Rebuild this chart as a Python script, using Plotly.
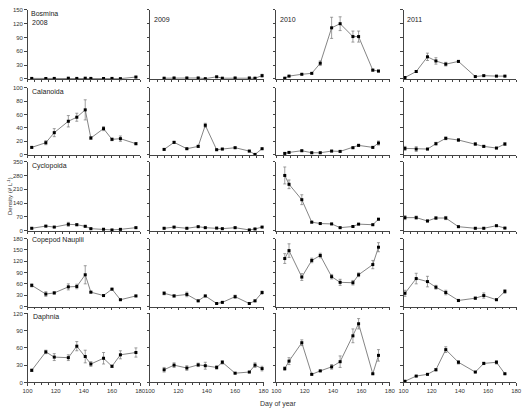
import plotly.graph_objects as go

W, H = 529, 412

years = ["2008", "2009", "2010", "2011"]
taxa = ["Bosmina", "Calanoida", "Cyclopoida", "Copepod Nauplii", "Daphnia"]

days_2008 = [103, 113, 119, 129, 135, 141, 145, 154, 160, 166, 177]
days_2009 = [110, 117, 126, 134, 139, 147, 151, 160, 170, 174, 179]
days_2010 = [106, 109, 118, 125, 131, 139, 145, 154, 158, 168, 172]
days_2011 = [101, 109, 117, 123, 130, 139, 151, 157, 166, 172]

bosmina_2008 = [1, 0.8, 1, 1.5, 1, 1.5, 1, 0.8, 1, 0.5, 4]
bosmina_2008_se = [0.5, 0.5, 0.5, 0.5, 0.5, 0.5, 0.5, 0.5, 0.5, 0.5, 1.5]
bosmina_2009 = [1.5, 2, 2, 2, 0.5, 4.5, 1.5, 2, 2, 1.5, 7]
bosmina_2009_se = [0.5, 0.5, 0.5, 0.5, 0.5, 1, 0.5, 0.5, 0.5, 0.5, 3]
bosmina_2010 = [1.5, 6, 10, 12, 34, 111, 120, 92, 92, 19, 17]
bosmina_2010_se = [0.5, 1, 1, 1, 5, 23, 15, 12, 12, 2, 2]
bosmina_2011 = [3, 16, 48, 39, 32, 38, 5, 7, 6, 6]
bosmina_2011_se = [1, 2, 8, 7, 4, 2, 1, 1, 1, 1]

calanoida_2008 = [11, 18, 33, 50, 56, 67, 25, 39, 23, 24, 16.5]
calanoida_2008_se = [1, 3, 6, 8.5, 6, 15, 2, 3, 2, 4, 1.5]
calanoida_2009 = [8, 18.5, 9, 12.5, 44, 7.5, 8.5, 10.5, 5.5, 0.5, 9]
calanoida_2009_se = [1, 1.5, 1, 1.5, 3, 1, 1, 1, 1, 0.5, 1]
calanoida_2010 = [2, 3.5, 6, 3, 3, 5.5, 5, 10.5, 14, 11, 17.5]
calanoida_2010_se = [1, 1, 1, 1, 1, 1, 1, 1, 1.5, 1, 3]
calanoida_2011 = [9.5, 8.5, 8.5, 16.5, 24.5, 22, 16, 12.5, 10, 16]
calanoida_2011_se = [3, 3.5, 1, 2, 2, 2, 2, 1.5, 1, 2]

cyclopoida_2008 = [12, 23, 18, 32, 30, 22, 10, 7, 3.5, 6.5, 15]
cyclopoida_2008_se = [3, 3, 2, 10, 5, 3, 2, 2, 1, 2, 3]
cyclopoida_2009 = [12, 18, 12, 20, 15, 13, 10, 15, 3.5, 8.5, 18]
cyclopoida_2009_se = [3, 3, 2, 3, 2, 2, 2, 3, 1, 2, 3]
cyclopoida_2010 = [280, 235, 157, 43, 36, 34, 15, 21, 33, 30, 58]
cyclopoida_2010_se = [43, 22, 25, 4, 3, 3, 2, 3, 3, 3, 4]
cyclopoida_2011 = [66, 66, 49, 64, 64, 20, 12, 12, 25, 13]
cyclopoida_2011_se = [10, 8, 5, 6, 8, 3, 2, 2, 3, 2]

nauplii_2008 = [56, 33, 36, 52, 53, 84, 38, 29, 46, 18, 28]
nauplii_2008_se = [4, 6, 3, 8, 6, 24, 2, 2, 2, 1, 2]
nauplii_2009 = [35, 28, 32, 15, 28, 8, 11, 26, 8, 15, 37]
nauplii_2009_se = [4, 3, 6, 2, 2, 1, 2, 4, 1, 2, 4]
nauplii_2010 = [127, 148, 78, 122, 135, 79, 64, 63, 84, 111, 157]
nauplii_2010_se = [13, 18, 9, 6, 6, 6, 8, 6, 5, 11, 12]
nauplii_2011 = [35, 74, 66, 51, 37, 16, 22, 29, 18, 40]
nauplii_2011_se = [8, 14, 14, 5, 6, 3, 3, 7, 2, 5]

daphnia_2008 = [21, 53, 44, 43, 63, 45, 32, 42, 28, 48, 52]
daphnia_2008_se = [2, 3, 6, 5, 8, 11, 4, 10, 2, 7, 8]
daphnia_2009 = [22, 30, 25, 30.5, 29, 26, 35, 16, 18, 30, 24]
daphnia_2009_se = [4, 4, 4, 3, 6, 3, 3, 1, 1, 4, 4]
daphnia_2010 = [24, 37, 69, 14, 20, 27, 36, 81, 102, 15, 47]
daphnia_2010_se = [3, 6, 5, 1, 1, 4, 10, 12, 9, 1, 10]
daphnia_2011 = [2, 11, 14, 22, 57, 35, 18, 33, 35, 15]
daphnia_2011_se = [1, 1, 1, 2, 5, 3, 1, 2, 3, 1]

y_max = [150, 100, 350, 180, 120]
y_step = [30, 20, 70, 30, 30]
x_ticks = [100, 120, 140, 160, 180]

days = [days_2008, days_2009, days_2010, days_2011]
values = [
    [bosmina_2008, bosmina_2009, bosmina_2010, bosmina_2011],
    [calanoida_2008, calanoida_2009, calanoida_2010, calanoida_2011],
    [cyclopoida_2008, cyclopoida_2009, cyclopoida_2010, cyclopoida_2011],
    [nauplii_2008, nauplii_2009, nauplii_2010, nauplii_2011],
    [daphnia_2008, daphnia_2009, daphnia_2010, daphnia_2011],
]
errors = [
    [bosmina_2008_se, bosmina_2009_se, bosmina_2010_se, bosmina_2011_se],
    [calanoida_2008_se, calanoida_2009_se, calanoida_2010_se, calanoida_2011_se],
    [cyclopoida_2008_se, cyclopoida_2009_se, cyclopoida_2010_se, cyclopoida_2011_se],
    [nauplii_2008_se, nauplii_2009_se, nauplii_2010_se, nauplii_2011_se],
    [daphnia_2008_se, daphnia_2009_se, daphnia_2010_se, daphnia_2011_se],
]

# pixel layout of panels
col_px = [(23, 138), (148, 264), (277, 393), (407, 522)]
row_px = [(7, 77), (86, 154), (161, 231), (239, 308), (315, 385)]

FONT = "Liberation Sans, Arial, sans-serif"
AX = "#444444"

fig = go.Figure()
layout = dict(
    width=W, height=H, autosize=False,
    margin=dict(l=0, r=0, t=0, b=0),
    paper_bgcolor="white", plot_bgcolor="white",
    showlegend=False,
    font=dict(family=FONT, size=6, color="#333333"),
)

n = 0
for r in range(5):
    for c in range(4):
        n += 1
        xa = "x" if n == 1 else f"x{n}"
        ya = "y" if n == 1 else f"y{n}"
        fig.add_trace(go.Scatter(
            x=days[c], y=values[r][c], xaxis=xa, yaxis=ya,
            mode="lines+markers",
            line=dict(color="#666666", width=0.8),
            marker=dict(symbol="square", size=3, color="black"),
            error_y=dict(type="data", array=errors[r][c], visible=True,
                         thickness=0.7, width=1.5, color="#777777"),
            cliponaxis=False,
        ))
        x0, x1 = col_px[c]
        y0, y1 = row_px[r]
        xkey = "xaxis" if n == 1 else f"xaxis{n}"
        ykey = "yaxis" if n == 1 else f"yaxis{n}"
        layout[xkey] = dict(
            domain=[x0 / W, x1 / W], anchor=ya, range=[100, 180],
            tickvals=x_ticks, showticklabels=(r == 4),
            ticks="outside", ticklen=2.5, tickwidth=0.7, tickcolor=AX,
            minor=dict(dtick=5, tick0=100, ticks="outside", ticklen=2, tickwidth=0.6, tickcolor=AX),
            showline=True, linecolor=AX, linewidth=0.8,
            showgrid=False, zeroline=False,
            tickfont=dict(size=6, family=FONT, color="#333333"),
        )
        layout[ykey] = dict(
            domain=[1 - y1 / H, 1 - y0 / H], anchor=xa, range=[0, y_max[r]],
            dtick=y_step[r], tick0=0, showticklabels=(c == 0),
            ticks="outside", ticklen=2.5, tickwidth=0.7, tickcolor=AX,
            showline=True, linecolor=AX, linewidth=0.8,
            showgrid=False, zeroline=False,
            tickfont=dict(size=6, family=FONT, color="#333333"),
        )

annotations = []

def label(text, px, py, size=7):
    annotations.append(dict(
        text=text, x=px / W, y=1 - py / H, xref="paper", yref="paper",
        xanchor="left", yanchor="middle", showarrow=False,
        font=dict(size=size, family=FONT, color="#222222"),
    ))

label("Bosmina", 25, 11)
label("2008", 26, 20)
label("2009", 150, 17)
label("2010", 279, 17)
label("2011", 408, 17)
label("Calanoida", 26, 90)
label("Cyclopoida", 26, 165)
label("Copepod Nauplii", 26, 241)
label("Daphnia", 27, 319)

annotations.append(dict(
    text="Density (# L<sup>-1</sup>)", x=5 / W, y=1 - 196 / H,
    xref="paper", yref="paper", xanchor="center", yanchor="middle",
    textangle=-90, showarrow=False,
    font=dict(size=6, family=FONT, color="#333333"),
))
annotations.append(dict(
    text="Day of year", x=279 / W, y=1 - 407 / H,
    xref="paper", yref="paper", xanchor="center", yanchor="middle",
    showarrow=False, font=dict(size=7, family=FONT, color="#333333"),
))
layout["annotations"] = annotations

fig.update_layout(**layout)
fig.write_html("out.html")
